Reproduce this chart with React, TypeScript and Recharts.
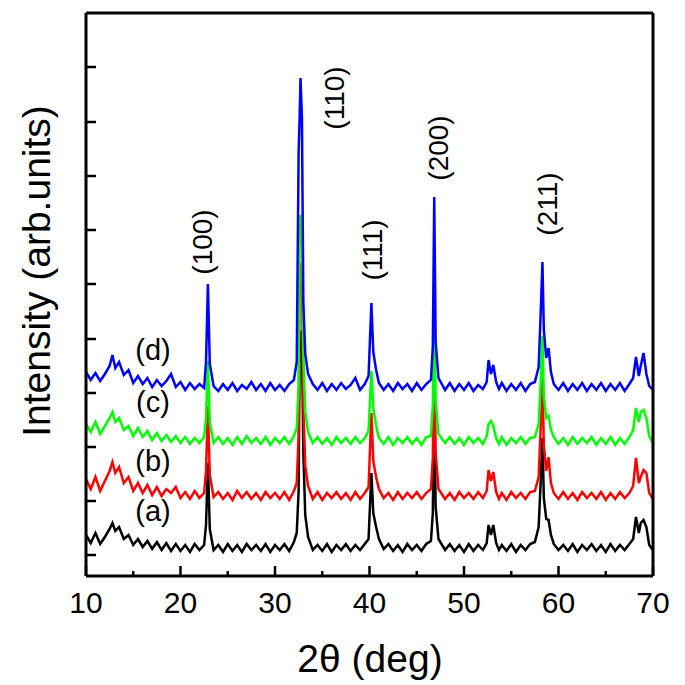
import { LineChart, Line, XAxis, YAxis } from 'recharts';

// 2theta grid (deg)
const twoTheta = [
  10, 10.5, 11, 11.5, 12, 12.5, 12.8, 13.1, 13.5, 14,
  14.5, 15, 15.5, 16, 16.5, 17, 17.5, 18, 18.5, 19,
  19.5, 20, 20.5, 21, 21.5, 22, 22.5, 22.7, 22.9, 23.1,
  23.5, 24, 24.5, 25, 25.5, 26, 26.5, 27, 27.5, 28,
  28.5, 29, 29.5, 30, 30.5, 31, 31.5, 32, 32.3, 32.5,
  32.6, 32.7, 32.85, 33.0, 33.2, 33.5, 34, 34.5, 35, 35.5,
  36, 36.5, 37, 37.5, 38, 38.5, 39, 39.5, 39.9, 40.2,
  40.4, 40.7, 41, 41.5, 42, 42.5, 43, 43.5, 44, 44.5,
  45, 45.5, 46, 46.5, 46.7, 46.85, 47.0, 47.3, 48, 48.5,
  49, 49.5, 50, 50.5, 51, 51.5, 52, 52.4, 52.6, 52.85,
  53.1, 53.4, 53.7, 54, 54.5, 55, 55.5, 56, 56.5, 57,
  57.5, 57.9, 58.1, 58.3, 58.45, 58.7, 58.95, 59.2, 59.5, 60,
  60.5, 61, 61.5, 62, 62.5, 63, 63.5, 64, 64.5, 65,
  65.5, 66, 66.5, 67, 67.5, 67.9, 68.2, 68.5, 68.7, 69.0,
  69.3, 69.6, 70,
];

// intensities (arb. units), above its own baseline
const sampleA = [
  18, 10, 20, 9, 16, 24, 30, 22, 26, 14,
  18, 8, 14, 6, 12, 4, 11, 3, 10, 2,
  9, 2, 8, 1, 9, 3, 8, 28, 90, 24,
  3, 8, 1, 9, 2, 8, 1, 9, 3, 8,
  2, 9, 1, 8, 3, 9, 2, 11, 20, 62,
  200, 222, 218, 100, 38, 16, 3, 8, 2, 9,
  1, 8, 3, 9, 2, 8, 3, 9, 14, 80,
  40, 26, 14, 4, 9, 2, 8, 1, 9, 3,
  8, 2, 9, 12, 40, 158, 46, 14, 3, 9,
  2, 8, 1, 9, 2, 8, 3, 10, 28, 18,
  28, 10, 3, 8, 2, 9, 1, 8, 3, 9,
  11, 26, 68, 115, 55, 34, 33, 18, 9, 3,
  8, 2, 9, 1, 8, 3, 9, 2, 8, 1,
  9, 2, 8, 3, 9, 14, 36, 20, 30, 33,
  26, 8, 3,
];

const sampleB = [
  22, 12, 24, 10, 20, 30, 39, 28, 34, 18,
  24, 10, 18, 8, 16, 6, 14, 5, 12, 8,
  14, 3, 9, 2, 10, 3, 8, 30, 95, 26,
  4, 9, 2, 8, 1, 10, 3, 9, 2, 8,
  1, 9, 3, 8, 2, 9, 1, 10, 18, 65,
  215, 238, 232, 95, 35, 15, 2, 9, 1, 8,
  3, 9, 2, 8, 1, 9, 2, 8, 14, 88,
  40, 24, 12, 3, 8, 1, 9, 2, 8, 3,
  9, 2, 8, 12, 42, 165, 48, 12, 2, 8,
  1, 9, 3, 8, 2, 9, 3, 10, 31, 20,
  29, 9, 2, 8, 1, 9, 3, 8, 2, 9,
  10, 24, 70, 122, 55, 30, 44, 18, 8, 2,
  9, 2, 8, 1, 9, 3, 8, 2, 9, 1,
  8, 2, 9, 3, 8, 15, 43, 18, 24, 31,
  28, 8, 2,
];

const sampleC = [
  22, 14, 24, 12, 20, 28, 34, 24, 28, 16,
  20, 10, 18, 9, 15, 6, 13, 5, 11, 4,
  10, 3, 9, 2, 8, 3, 9, 28, 85, 24,
  3, 9, 2, 8, 1, 9, 2, 10, 3, 8,
  2, 9, 1, 8, 3, 9, 2, 10, 18, 60,
  200, 231, 224, 90, 34, 14, 3, 9, 2, 8,
  1, 9, 3, 8, 2, 9, 3, 8, 15, 75,
  38, 20, 8, 2, 9, 1, 8, 3, 9, 2,
  8, 1, 9, 10, 40, 155, 45, 12, 3, 9,
  2, 8, 1, 9, 3, 8, 2, 10, 22, 25,
  20, 8, 2, 9, 1, 8, 3, 9, 2, 8,
  9, 22, 60, 110, 50, 28, 30, 16, 9, 2,
  8, 1, 9, 2, 8, 3, 9, 1, 8, 2,
  9, 1, 8, 2, 9, 16, 38, 24, 34, 36,
  28, 10, 3,
];

const sampleD = [
  20, 12, 19, 11, 18, 26, 37, 24, 30, 17,
  22, 9, 16, 8, 14, 5, 12, 6, 11, 18,
  5, 10, 2, 9, 3, 8, 4, 30, 108, 28,
  6, 1, 8, 2, 9, 1, 7, 3, 10, 2,
  8, 1, 9, 2, 7, 1, 8, 12, 30, 240,
  272, 314, 274, 90, 38, 18, 8, 2, 9, 1,
  8, 2, 9, 3, 7, 14, 2, 8, 16, 89,
  40, 22, 9, 2, 8, 1, 9, 3, 8, 1,
  9, 2, 8, 12, 45, 195, 50, 14, 2, 9,
  1, 8, 2, 9, 1, 7, 3, 10, 32, 18,
  27, 10, 3, 9, 1, 8, 2, 9, 1, 8,
  10, 25, 75, 130, 62, 34, 44, 20, 8, 2,
  9, 1, 8, 2, 9, 1, 8, 2, 9, 1,
  8, 2, 9, 1, 8, 14, 35, 16, 26, 39,
  18, 6, 2,
];

// vertical shift applied to each pattern: (a), (b), (c), (d)
const stackOffsets = [23, 75, 130, 184];

const xTicks = [10, 15, 20, 25, 30, 35, 40, 45, 50, 55, 60, 65, 70];
const yTicks = [21, 75, 129, 183, 237, 292, 346, 400, 454, 509];

const seriesKeys = ['a', 'b', 'c', 'd'];
const seriesColors = ['#000000', '#ff0000', '#00ff00', '#0000ff'];
const seriesNames = ['(a)', '(b)', '(c)', '(d)'];

const peakLabels = ['(100)', '(110)', '(111)', '(200)', '(211)'];

const rows = twoTheta.map((t, i) => ({
  t,
  a: stackOffsets[0] + sampleA[i],
  b: stackOffsets[1] + sampleB[i],
  c: stackOffsets[2] + sampleC[i],
  d: stackOffsets[3] + sampleD[i],
}));

const FONT = 'Liberation Sans, Arial, Helvetica, sans-serif';
const frame = { stroke: '#000', strokeWidth: 3 };

const XTick = (props: any) => {
  const { x, y, payload } = props;
  const major = payload.value % 10 === 0;
  return (
    <g>
      <line x1={x} x2={x} y1={y} y2={y - (major ? 10 : 5)} stroke="#000" strokeWidth={2.5} />
      {major && (
        <text x={x} y={y + 37} textAnchor="middle" fontSize={30} fontFamily={FONT} fill="#000">
          {payload.value}
        </text>
      )}
    </g>
  );
};

const YTick = (props: any) => {
  const { x, y } = props;
  return <line x1={x} x2={x + 10} y1={y} y2={y} stroke="#000" strokeWidth={2.5} />;
};

// label anchor spots (page px) for the annotations
const peakLabelPos = [
  [212, 242],
  [344, 98],
  [382, 250],
  [448, 148],
  [557, 204],
];
const seriesLabelPos = [
  [153, 521],
  [153, 471],
  [153, 412],
  [153, 360],
];

export default function App() {
  return (
    <div style={{ position: 'absolute', left: 0, top: 0, width: 685, height: 685, background: '#fff' }}>
      <LineChart width={685} height={685} data={rows} margin={{ top: 12, right: 31, bottom: 0, left: 0 }}>
        <XAxis
          dataKey="t"
          type="number"
          domain={[10, 70]}
          ticks={xTicks}
          interval={0}
          height={109}
          axisLine={frame}
          tickLine={false}
          tickSize={0}
          tickMargin={0}
          tick={XTick}
          allowDataOverflow
        />
        <XAxis
          xAxisId="top"
          orientation="top"
          dataKey="t"
          type="number"
          domain={[10, 70]}
          height={1}
          axisLine={frame}
          tickLine={false}
          tick={false}
          allowDataOverflow
        />
        <YAxis
          type="number"
          domain={[0, 563]}
          ticks={yTicks}
          interval={0}
          width={86}
          axisLine={frame}
          tickLine={false}
          tickSize={0}
          tickMargin={0}
          tick={YTick}
          allowDataOverflow
        />
        <YAxis
          yAxisId="right"
          orientation="right"
          type="number"
          domain={[0, 563]}
          width={1}
          axisLine={frame}
          tickLine={false}
          tick={false}
          allowDataOverflow
        />
        {seriesKeys.map((k, i) => (
          <Line
            key={k}
            type="linear"
            dataKey={k}
            stroke={seriesColors[i]}
            strokeWidth={2.5}
            dot={false}
            activeDot={false}
            isAnimationActive={false}
          />
        ))}
      </LineChart>
      <svg
        width={685}
        height={685}
        style={{ position: 'absolute', left: 0, top: 0, pointerEvents: 'none' }}
        fontFamily={FONT}
      >
        {peakLabels.map((s, i) => (
          <text
            key={s}
            transform={`translate(${peakLabelPos[i][0]},${peakLabelPos[i][1]}) rotate(-90)`}
            textAnchor="middle"
            fontSize={28}
            fill="#000"
          >
            {s}
          </text>
        ))}
        {seriesNames.map((s, i) => (
          <text
            key={s}
            x={seriesLabelPos[i][0]}
            y={seriesLabelPos[i][1]}
            textAnchor="middle"
            fontSize={29}
            fill="#000"
          >
            {s}
          </text>
        ))}
        <text transform="translate(50,271) rotate(-90)" textAnchor="middle" fontSize={39} fill="#000">
          Intensity (arb.units)
        </text>
        <text x={370} y={672} textAnchor="middle" fontSize={39} fill="#000">
          2θ (deg)
        </text>
      </svg>
    </div>
  );
}
